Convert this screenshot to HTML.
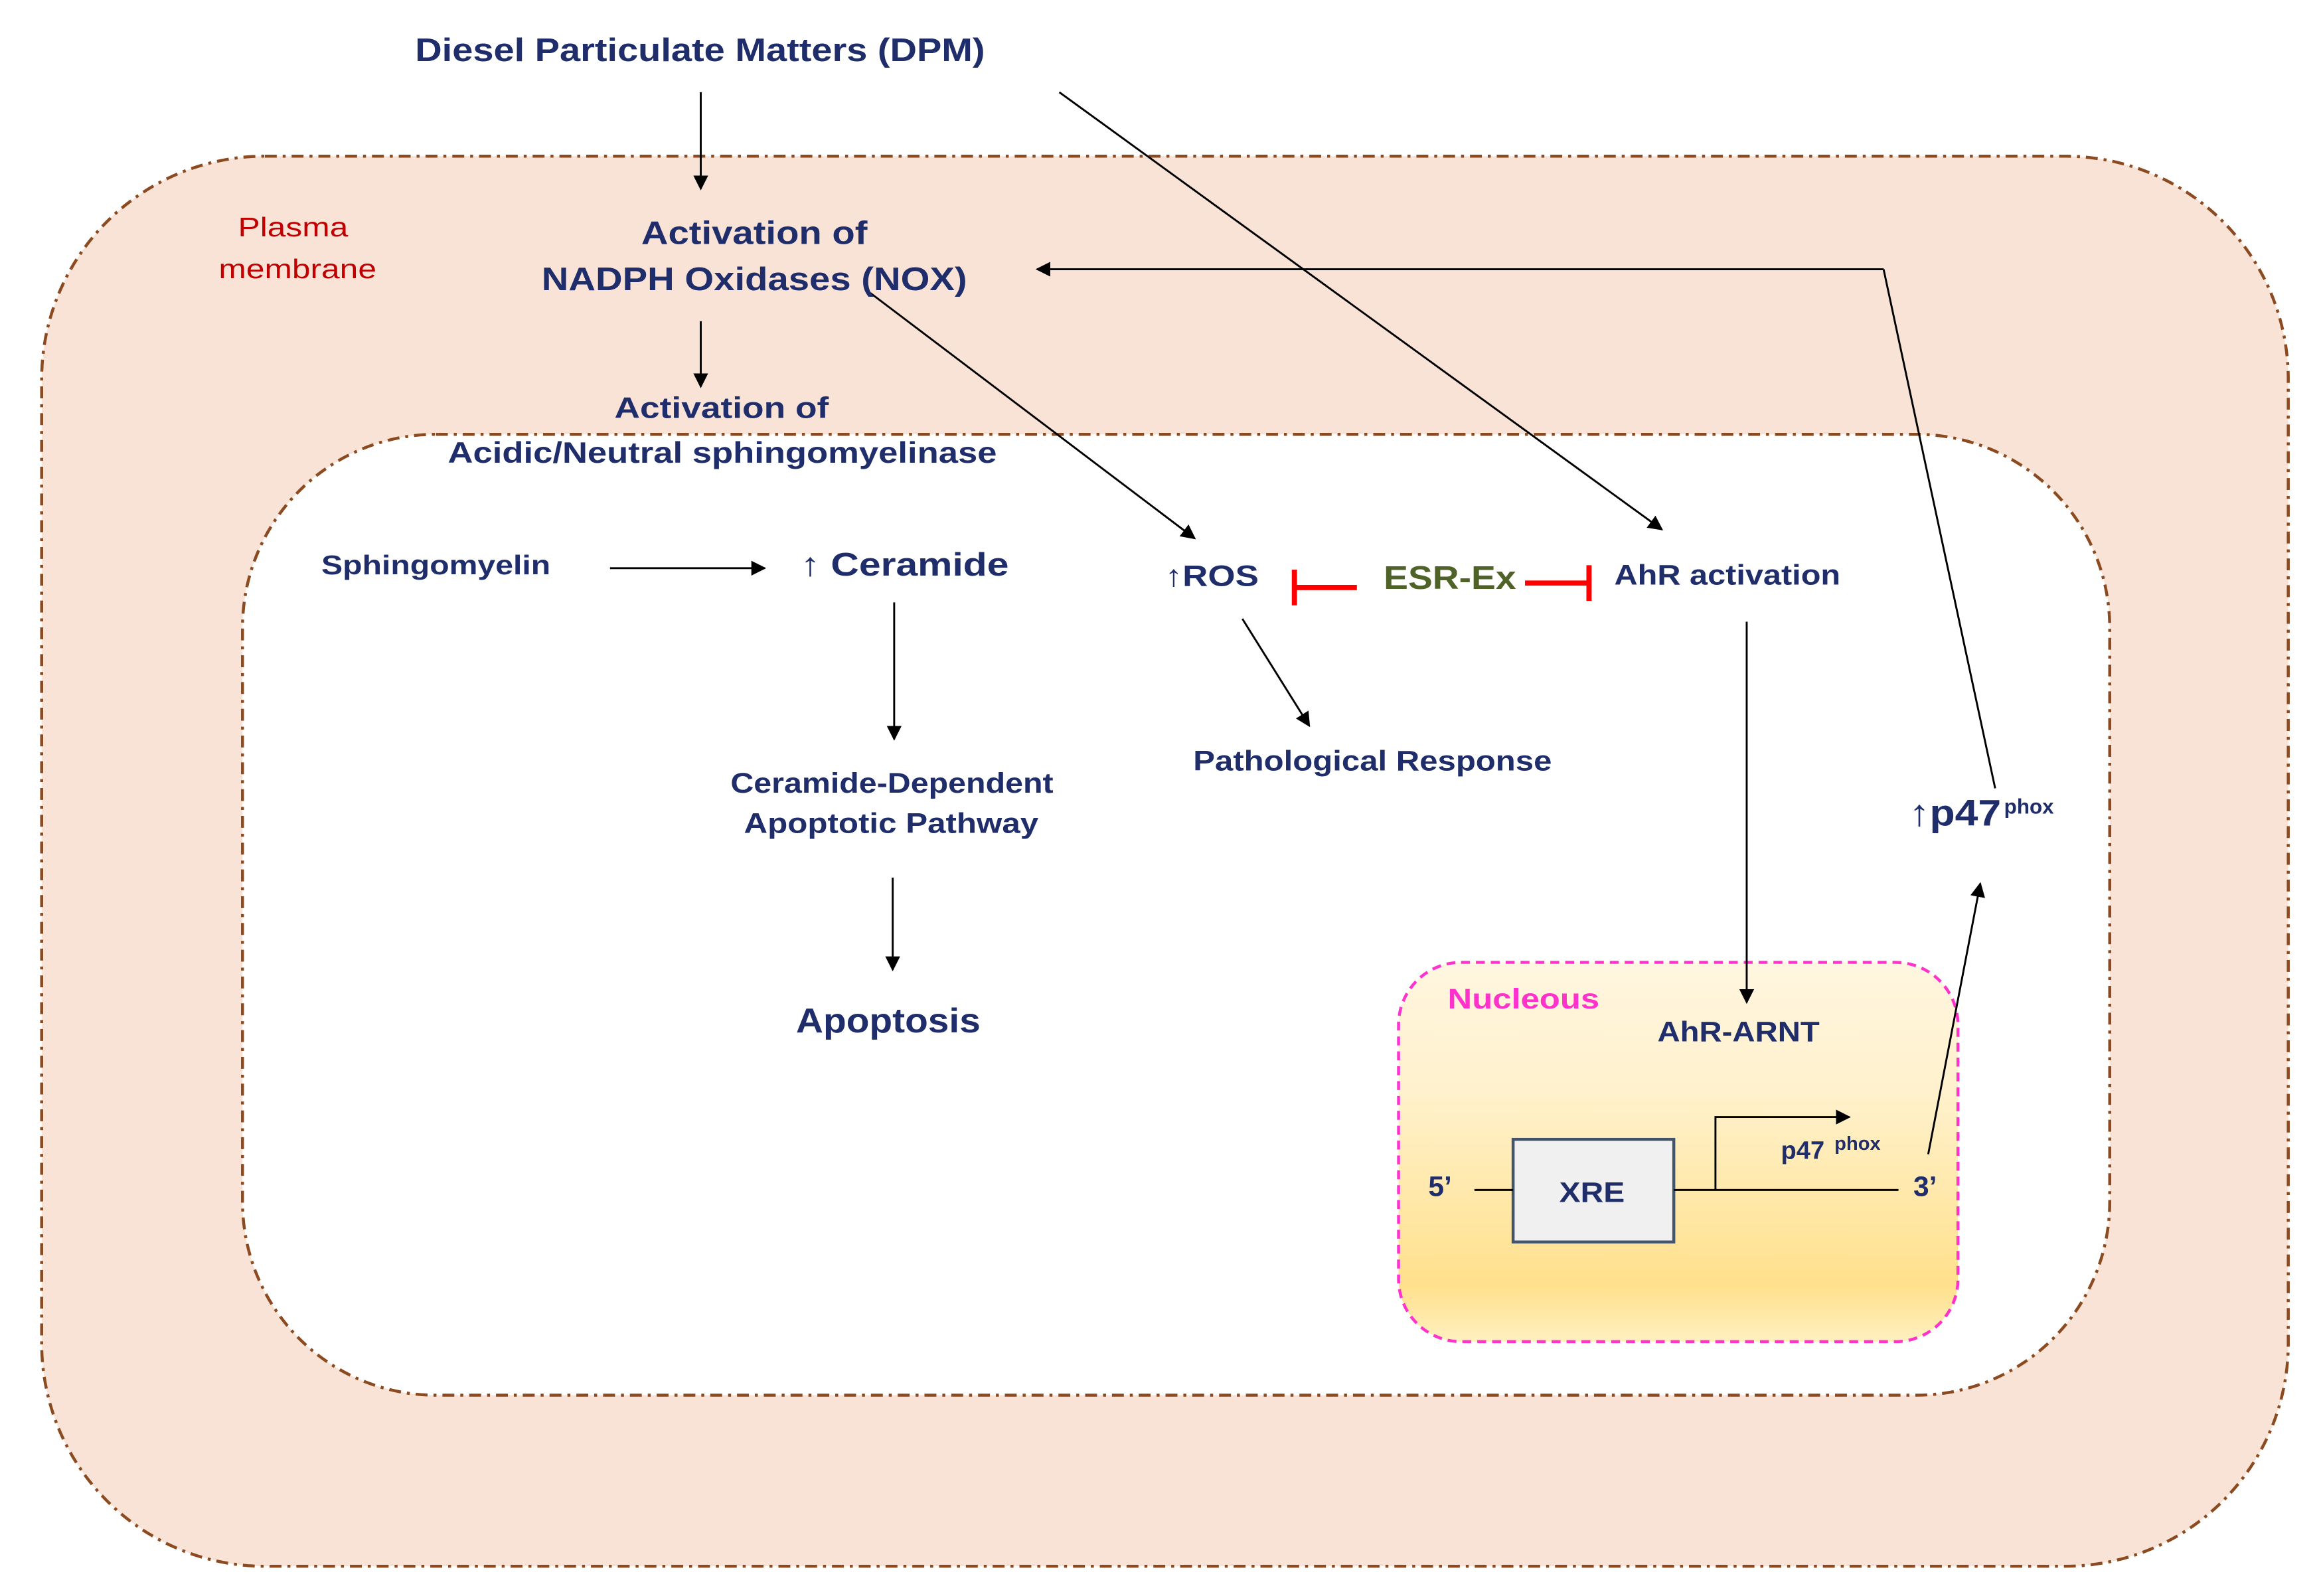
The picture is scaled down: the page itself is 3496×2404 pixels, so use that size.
<!DOCTYPE html>
<html><head><meta charset="utf-8"><style>
html,body{margin:0;padding:0;background:#fff}
svg{display:block}
text{font-family:"Liberation Sans",Arial,sans-serif;font-weight:bold;fill:#1f2d6b}
</style></head><body>
<svg width="3496" height="2404" viewBox="0 0 1560 1073" preserveAspectRatio="none" xmlns="http://www.w3.org/2000/svg">
<defs>
<marker id="a" markerWidth="10" markerHeight="10" refX="9" refY="5" orient="auto" markerUnits="userSpaceOnUse"><path d="M0,0 L10,5 L0,10 z" fill="#000"/></marker>
<linearGradient id="g" x1="0" y1="0" x2="0" y2="1"><stop offset="0" stop-color="#fff6e0"/><stop offset="0.35" stop-color="#fff1cc"/><stop offset="0.85" stop-color="#ffe08c"/><stop offset="1" stop-color="#fff0c0"/></linearGradient>
</defs>
<rect x="28" y="105" width="1510" height="948" rx="150" fill="#f9e3d7" stroke="#8b4a20" stroke-width="2" stroke-dasharray="8,4,2,4"/>
<rect x="163" y="292" width="1255" height="646" rx="130" fill="#fff" stroke="#8b4a20" stroke-width="2" stroke-dasharray="8,4,2,4"/>
<rect x="940" y="647" width="376" height="255" rx="42" fill="url(#g)" stroke="#ff33cc" stroke-width="2" stroke-dasharray="6,4"/>
<rect x="1017" y="766" width="108" height="69" fill="#f0f0f0" stroke="#44546a" stroke-width="2"/>
<g stroke="#000" stroke-width="1.3" fill="none">
<line x1="471" y1="62" x2="471" y2="127" marker-end="url(#a)"/>
<line x1="471" y1="216" x2="471" y2="260" marker-end="url(#a)"/>
<line x1="585" y1="197" x2="803" y2="362" marker-end="url(#a)"/>
<line x1="712" y1="62" x2="1117" y2="356" marker-end="url(#a)"/>
<line x1="1266" y1="181" x2="697" y2="181" marker-end="url(#a)"/>
<line x1="1266" y1="181" x2="1341" y2="530"/>
<line x1="410" y1="382" x2="514" y2="382" marker-end="url(#a)"/>
<line x1="601" y1="405" x2="601" y2="497" marker-end="url(#a)"/>
<line x1="600" y1="590" x2="600" y2="652" marker-end="url(#a)"/>
<line x1="835" y1="416" x2="880" y2="488" marker-end="url(#a)"/>
<line x1="1174" y1="418" x2="1174" y2="674" marker-end="url(#a)"/>
<line x1="1296" y1="776" x2="1331" y2="594" marker-end="url(#a)"/>
<line x1="991" y1="800" x2="1017" y2="800"/>
<line x1="1125" y1="800" x2="1276" y2="800"/>
<polyline points="1153,800 1153,751 1243,751" marker-end="url(#a)"/>
</g>
<g stroke="#ff0000" stroke-width="3.5">
<line x1="912" y1="395" x2="870" y2="395"/><line x1="870" y1="383" x2="870" y2="407"/>
<line x1="1025" y1="392" x2="1068" y2="392"/><line x1="1068" y1="380" x2="1068" y2="404"/>
</g>
<text x="279" y="41" font-size="22" textLength="383" lengthAdjust="spacingAndGlyphs">Diesel Particulate Matters (DPM)</text>
<text x="431" y="164" font-size="22" textLength="152" lengthAdjust="spacingAndGlyphs">Activation of</text>
<text x="364" y="195" font-size="22" textLength="286" lengthAdjust="spacingAndGlyphs">NADPH Oxidases (NOX)</text>
<text x="413" y="281" font-size="20" textLength="144" lengthAdjust="spacingAndGlyphs">Activation  of</text>
<text x="301" y="311" font-size="20" textLength="369" lengthAdjust="spacingAndGlyphs">Acidic/Neutral  sphingomyelinase</text>
<text x="160" y="159" font-size="18" textLength="74" lengthAdjust="spacingAndGlyphs" style="font-weight:normal;fill:#c00000">Plasma</text>
<text x="147" y="187" font-size="18" textLength="106" lengthAdjust="spacingAndGlyphs" style="font-weight:normal;fill:#c00000">membrane</text>
<text x="216" y="386" font-size="18" textLength="154" lengthAdjust="spacingAndGlyphs">Sphingomyelin</text>
<text x="538" y="387" font-size="22" textLength="140" lengthAdjust="spacingAndGlyphs">↑ Ceramide</text>
<text x="783" y="394" font-size="20" textLength="63" lengthAdjust="spacingAndGlyphs">↑ROS</text>
<text x="930" y="396" font-size="22" textLength="89" lengthAdjust="spacingAndGlyphs" style="fill:#4f6228">ESR-Ex</text>
<text x="1085" y="393" font-size="19" textLength="152" lengthAdjust="spacingAndGlyphs">AhR activation</text>
<text x="802" y="518" font-size="19" textLength="241" lengthAdjust="spacingAndGlyphs">Pathological  Response</text>
<text x="491" y="533" font-size="19" textLength="217" lengthAdjust="spacingAndGlyphs">Ceramide-Dependent</text>
<text x="500" y="560" font-size="19" textLength="198" lengthAdjust="spacingAndGlyphs">Apoptotic  Pathway</text>
<text x="535" y="694" font-size="23" textLength="124" lengthAdjust="spacingAndGlyphs">Apoptosis</text>
<text x="1283" y="555" font-size="25" textLength="62" lengthAdjust="spacingAndGlyphs">↑p47</text>
<text x="1347" y="547" font-size="14">phox</text>
<text x="973" y="678" font-size="19" textLength="102" lengthAdjust="spacingAndGlyphs" style="fill:#ff33cc">Nucleous</text>
<text x="1114" y="700" font-size="19" textLength="109" lengthAdjust="spacingAndGlyphs">AhR-ARNT</text>
<text x="1048" y="808" font-size="19" textLength="44" lengthAdjust="spacingAndGlyphs">XRE</text>
<text x="960" y="804" font-size="19">5’</text>
<text x="1286" y="804" font-size="19">3’</text>
<text x="1197" y="779" font-size="17">p47</text>
<text x="1233" y="773" font-size="13">phox</text>
</svg>
</body></html>
